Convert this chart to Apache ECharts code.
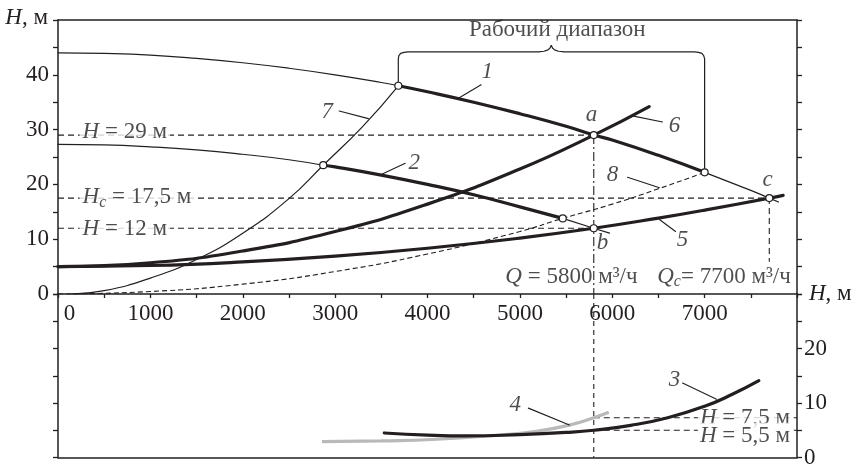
<!DOCTYPE html>
<html><head><meta charset="utf-8">
<script src="https://cdn.jsdelivr.net/npm/echarts@6/dist/echarts.min.js"></script>
<style>html,body{margin:0;padding:0;background:#fff}#c{width:852px;height:466px}</style>
</head><body><div id="c"></div>
<script>
// ---------- data (Q in m3/h, H in m) ----------
const xTicks = [0, 1000, 2000, 3000, 4000, 5000, 6000, 7000];
const yTicksTop = [0, 10, 20, 30, 40];
const yTicksBottom = [0, 10, 20];

// 1 - pump curve (thin parts and working thick part)
const curve1Thin = [[0,44.0],[500,43.9],[1000,43.6],[1500,43.0],[2000,42.2],[2500,41.2],[3000,40.0],[3500,38.6],[3684,38.0]];
const curve1Work = [[3684,38.0],[4000,36.9],[4500,35.0],[5000,32.9],[5500,30.6],[5800,29.0],[6000,28.1],[6500,25.3],[7000,22.2]];
const curve1Tail = [[7000,22.2],[7500,18.9],[7700,17.5],[7800,16.8]];
// 2 - reduced-speed pump curve
const curve2Thin = [[0,27.3],[500,27.2],[1000,26.85],[1500,26.3],[2000,25.5],[2500,24.5],[2871,23.5]];
const curve2Work = [[2871,23.5],[3000,23.2],[3500,21.7],[4000,20.0],[4500,18.1],[5000,15.9],[5464,13.8]];
const curve2Tail = [[5464,13.8],[5800,12.0],[5970,11.1]];
// 5, 6 - system curves
const curve5 = [[0,5.0],[1000,5.2],[2000,5.85],[3000,6.9],[4000,8.35],[5000,10.2],[5800,12.0],[6500,13.85],[7000,15.3],[7700,17.5],[7850,18.0]];
const curve6 = [[0,5.0],[1000,5.7],[2000,7.85],[3000,11.4],[4000,16.4],[5000,22.8],[5800,29.0],[6400,34.2]];
// 7, 8 - similarity parabolas
const curve7 = [[150,0],[500,0.6],[1000,2.9],[1500,6.3],[2000,11.1],[2500,17.4],[2871,23.5],[3300,30.6],[3684,38.0]];
const curve8 = [[0,0],[1000,0.45],[2000,1.8],[3000,4.1],[4000,7.3],[5000,11.4],[5464,13.8],[6000,16.4],[6500,19.2],[7000,22.2]];
// 3, 4 - lower panel curves
const curve3 = [[3532,4.5],[4000,4.1],[4417,3.95],[5000,4.2],[5500,4.6],[5800,5.0],[6200,5.9],[6600,7.3],[7000,9.4],[7300,11.6],[7587,14.1]];
const curve4 = [[2857,2.9],[3500,3.05],[4055,3.3],[4778,4.1],[5139,4.7],[5536,5.95],[5800,7.3],[5962,8.3]];

// reference lines
const refH29 = [[0,29],[5800,29]];
const refH175 = [[0,17.5],[7700,17.5]];
const refH12 = [[0,12],[5800,12]];
const refQ5800Top = [[5800,29],[5800,0]];
const refQ7700 = [[7700,17.5],[7700,5.9]];
const refQ5800Bottom = [[5800,30],[5800,0]];
const refH75 = [[5800,7.3],[8000,7.3]];
const refH55 = [[5800,5.0],[8000,5.0]];

// marked points
const pointsTop = [[3684,38.0],[5800,29.0],[7000,22.2],[2871,23.5],[5464,13.8],[5800,12.0],[7700,17.5]];

// working range brace
const brace = [[3684,38.0],[3684,42.9],[3690,43.5],[3710,43.9],[3745,44.1],[3790,44.2],[5200,44.2],[5260,44.3],[5300,44.5],[5325,44.85],[5340,45.4],[5355,44.85],[5380,44.5],[5420,44.3],[5480,44.2],[6890,44.2],[6935,44.1],[6970,43.9],[6990,43.5],[7000,42.9],[7000,22.2]];

// leader lines
const leadersTop = [
  [[4580,38.2],[4344,35.8]],
  [[3044,33.4],[3360,32.0]],
  [[6544,31.4],[6219,32.5]],
  [[3759,23.85],[3499,21.8]],
  [[6165,21.3],[6511,19.4]],
  [[6685,11.4],[6511,13.6]]
];
const leadersBottom = [
  [[6761,13.65],[7129,10.7]],
  [[5092,9.06],[5536,5.96]]
];

// curve number labels [text, Q, H]
const numLabelsTop = [['1',4648,40.6],['2',3857,24.0],['5',6760,9.9],['6',6674,30.6],['7',2914,33.2],['8',6002,21.8]];
const numLabelsBottom = [['3',6674,14.2],['4',4951,9.6]];
const pointLetters = [['a',5775,32.7],['b',5894,9.4],['c',7681,20.8]];

// ---------- styling ----------
const F = 'Liberation Serif';
const INK = '#231f20';
const FS = 23;
const rich = {
  i: {fontFamily: F, fontSize: FS, fontStyle: 'italic', color: INK, lineHeight: 27},
  s: {fontFamily: F, fontSize: 16, fontStyle: 'italic', color: INK, lineHeight: 16, verticalAlign: 'bottom'},
  n: {fontFamily: F, fontSize: FS, color: INK, lineHeight: 27}
};

function line(data, width, opts) {
  return Object.assign({
    type: 'line', data: data, symbol: 'none', silent: true, animation: false,
    xAxisIndex: 0, yAxisIndex: 0, z: 3,
    lineStyle: {color: INK, width: width, cap: 'round'}
  }, opts || {});
}
function dashed(data, xi, yi, type) {
  return {
    type: 'line', data: data, symbol: 'none', silent: true, animation: false,
    xAxisIndex: xi, yAxisIndex: yi, z: 1,
    lineStyle: {color: INK, width: 1.1, type: type || [6, 4]}
  };
}
function textItem(q, h, text, pos, extra) {
  return {
    value: [q, h],
    label: Object.assign({show: true, position: pos, distance: 0, formatter: text, rich: rich,
      fontFamily: F, fontSize: FS, color: INK}, extra || {})
  };
}

const series = [];
// reference dashed lines
series.push(dashed(refH29, 0, 0));
series.push(dashed(refH175, 0, 0));
series.push(dashed(refH12, 0, 0));
series.push(dashed(refQ5800Top, 0, 0, [9, 3, 2, 3]));
series.push(dashed(refQ7700, 0, 0));
series.push(dashed(refQ5800Bottom, 2, 2, [5, 4]));
series.push(dashed(refH75, 2, 2));
series.push(dashed(refH55, 2, 2));

// curves
const sm = {smooth: 0.5};
series.push(line(curve1Thin, 1.2, sm));
series.push(line(curve1Work, 3.2, sm));
series.push(line(curve1Tail, 1.2, sm));
series.push(line(curve2Thin, 1.2, sm));
series.push(line(curve2Work, 3.2, sm));
series.push(line(curve2Tail, 1.2, sm));
series.push(line(curve5, 3.2, sm));
series.push(line(curve6, 3.2, sm));
series.push(line(curve7, 1.2, sm));
series.push(line(curve8, 1.1, Object.assign({}, sm, {lineStyle: {color: INK, width: 1.1, type: [5, 3]}})));
series.push(line(curve4, 3.2, Object.assign({}, sm, {xAxisIndex: 2, yAxisIndex: 2, lineStyle: {color: '#b9b9b9', width: 3.2}})));
series.push(line(curve3, 3.2, Object.assign({}, sm, {xAxisIndex: 2, yAxisIndex: 2, z: 4})));
series.push(line(brace, 1.2, {smooth: false, z: 2}));
leadersTop.forEach(d => series.push(line(d, 1.1, {smooth: false})));
leadersBottom.forEach(d => series.push(line(d, 1.1, {smooth: false, xAxisIndex: 2, yAxisIndex: 2})));

// points
series.push({
  type: 'scatter', data: pointsTop, symbol: 'circle', symbolSize: 7, silent: true, animation: false,
  xAxisIndex: 0, yAxisIndex: 0, z: 6,
  itemStyle: {color: '#ffffff', opacity: 1, borderColor: INK, borderWidth: 1.2}
});

// text annotations (top)
const whiteBg = {backgroundColor: '#fff', padding: [0, 3]};
const topTexts = [
  textItem(5405, 48.1, '{n|Рабочий диапазон}', 'inside'),
  textItem(228, 29, '{i|H}{n| = 29 м}', 'right', Object.assign({offset: [0, -3]}, whiteBg)),
  textItem(228, 17.5, '{i|H}{s|c}{n| = 17,5 м}', 'right', Object.assign({offset: [0, -1]}, whiteBg)),
  textItem(228, 12, '{i|H}{n| = 12 м}', 'right', Object.assign({offset: [0, 1]}, whiteBg)),
  textItem(5558, 3.2, '{i|Q}{n| = 5800 м³/ч}', 'inside'),
  textItem(7210, 3.2, '{i|Q}{s|c}{n|= 7700 м³/ч}', 'inside')
];
numLabelsTop.concat(pointLetters).forEach(a => topTexts.push(textItem(a[1], a[2], '{i|' + a[0] + '}', 'inside')));
series.push({
  type: 'scatter', data: topTexts, symbolSize: 1, silent: true, animation: false,
  itemStyle: {color: 'rgba(0,0,0,0)'}, xAxisIndex: 0, yAxisIndex: 0, z: 2
});
const bottomTexts = [
  textItem(7952, 7.3, '{i|H}{n| = 7,5 м}', 'left', {backgroundColor: '#fff', padding: [0, 2, 0, 2]}),
  textItem(7952, 3.9, '{i|H}{n| = 5,5 м}', 'left', {backgroundColor: '#fff', padding: [0, 2, 0, 2]})
];
numLabelsBottom.forEach(a => bottomTexts.push(textItem(a[1], a[2], '{i|' + a[0] + '}', 'inside')));
series.push({
  type: 'scatter', data: bottomTexts, symbolSize: 1, silent: true, animation: false,
  itemStyle: {color: 'rgba(0,0,0,0)'}, xAxisIndex: 2, yAxisIndex: 2, z: 2
});

// ---------- axes ----------
const axLine = {show: true, onZero: false, lineStyle: {color: INK, width: 1.5}};
const tickOut = {show: true, length: 5, inside: false, lineStyle: {color: INK, width: 1.3}};
const lbl = {fontFamily: F, fontSize: FS, color: INK};

const option = {
  animation: false,
  backgroundColor: '#fff',
  grid: [
    {left: 58, right: 55, top: 20, height: 274, containLabel: false, outerBoundsMode: 'none'},
    {left: 58, right: 55, top: 294, height: 163.5, containLabel: false, outerBoundsMode: 'none'}
  ],
  xAxis: [
    {type: 'value', gridIndex: 0, min: 0, max: 8000, interval: 1000, position: 'bottom',
     axisLine: axLine, axisTick: {show: true, length: 4, lineStyle: {color: INK, width: 1.3}},
     minorTick: {show: true, splitNumber: 2, length: 4, lineStyle: {color: INK, width: 1.3}},
     splitLine: {show: false},
     axisLabel: Object.assign({margin: 8, showMaxLabel: false, alignMinLabel: 'left',
       formatter: v => xTicks.indexOf(v) >= 0 ? (v === 0 ? ' 0' : String(v)) : ''}, lbl),
     name: '{i|H}{n|, м}', nameLocation: 'end', nameGap: 12,
     nameTextStyle: {align: 'left', verticalAlign: 'middle', rich: rich}},
    {type: 'value', gridIndex: 0, min: 0, max: 8000, position: 'top',
     axisLine: axLine, axisTick: {show: false}, axisLabel: {show: false}, splitLine: {show: false}},
    {type: 'value', gridIndex: 1, min: 0, max: 8000, position: 'bottom',
     axisLine: axLine, axisTick: {show: false}, axisLabel: {show: false}, splitLine: {show: false}}
  ],
  yAxis: [
    {type: 'value', gridIndex: 0, min: 0, max: 50, interval: 10, position: 'left',
     axisLine: axLine, axisTick: tickOut,
     minorTick: {show: true, splitNumber: 2, length: 5, lineStyle: {color: INK, width: 1.3}},
     splitLine: {show: false},
     axisLabel: Object.assign({margin: 9, formatter: v => yTicksTop.indexOf(v) >= 0 ? String(v) : ''}, lbl),
     name: '{i|H}{n|, м}', nameLocation: 'end', nameGap: 2,
     nameTextStyle: {align: 'right', verticalAlign: 'middle', padding: [0, 10, 0, 0], rich: rich}},
    {type: 'value', gridIndex: 0, min: 0, max: 50, interval: 5, position: 'right',
     axisLine: axLine, axisTick: tickOut, axisLabel: {show: false}, splitLine: {show: false}},
    {type: 'value', gridIndex: 1, min: 0, max: 30, interval: 5, position: 'left',
     axisLine: axLine, axisTick: tickOut, axisLabel: {show: false}, splitLine: {show: false}},
    {type: 'value', gridIndex: 1, min: 0, max: 30, interval: 10, position: 'right',
     axisLine: axLine, axisTick: tickOut,
     minorTick: {show: true, splitNumber: 2, length: 5, lineStyle: {color: INK, width: 1.3}},
     splitLine: {show: false},
     axisLabel: Object.assign({margin: 7, formatter: v => yTicksBottom.indexOf(v) >= 0 ? String(v) : ''}, lbl)}
  ],
  series: series
};

const chart = echarts.init(document.getElementById('c'), null, {renderer: 'canvas'});
chart.setOption(option);
</script>
</body></html>
